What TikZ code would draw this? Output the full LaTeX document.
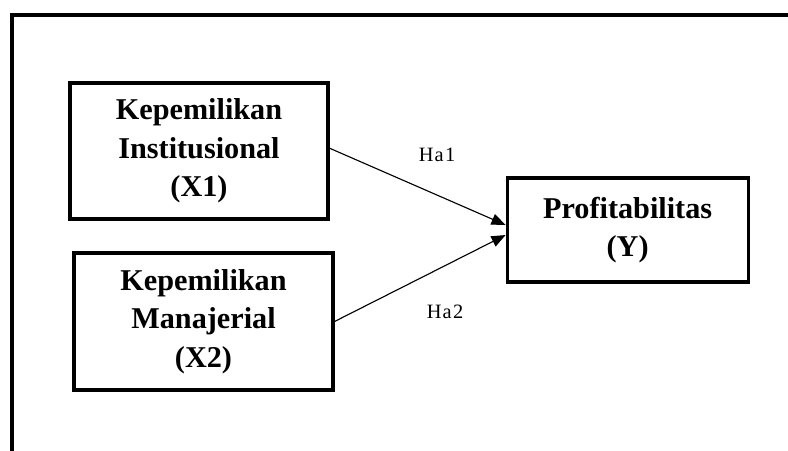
\documentclass[tikz,border=0pt]{standalone}
\usepackage{fontspec}
\setmainfont{Liberation Serif}
\newfontfamily\labelfont[LetterSpace=6]{Liberation Serif}
\usetikzlibrary{arrows.meta}

\tikzset{
  varbox/.style={draw, line width=2.2pt, rectangle, inner sep=0pt, align=center,
    font=\fontsize{21.5}{27.5}\selectfont\bfseries},
  hyp/.style={font=\labelfont\fontsize{14.5}{16}\selectfont},
  link/.style={line width=0.8pt, -{Triangle[length=10pt,width=8pt]}}
}

\begin{document}
\begin{tikzpicture}
    \useasboundingbox (0,0) rectangle (19.7,-11.25);
    % Frame
    \draw[line width=2.8pt] (19.8,-0.375) -| (0.3,-11.3);

    % Independent variables
    \node[varbox, minimum width=6.45cm, minimum height=3.4cm] (inst) at (4.975,-3.775)
        {Kepemilikan\\Institusional\\(X1)};
    \node[varbox, minimum width=6.475cm, minimum height=3.425cm] (manaj) at (5.0875,-8.0375)
        {Kepemilikan\\Manajerial\\(X2)};

    % Dependent variable
    \node[varbox, minimum width=6.025cm, minimum height=2.6cm] (prof) at (15.69,-5.75)
        {Profitabilitas\\(Y)};

    % Hypotheses
    \node[hyp] (ha1) at (10.925,-3.875) {Ha1};
    \node[hyp] (ha2) at (11.125,-7.8) {Ha2};

    % Connections
    \draw[link] ([yshift=2pt]inst.east) -- ([yshift=3.6pt]prof.west);
    \draw[link] (manaj.east) -- ([yshift=-3.6pt]prof.west);
\end{tikzpicture}
\end{document}
